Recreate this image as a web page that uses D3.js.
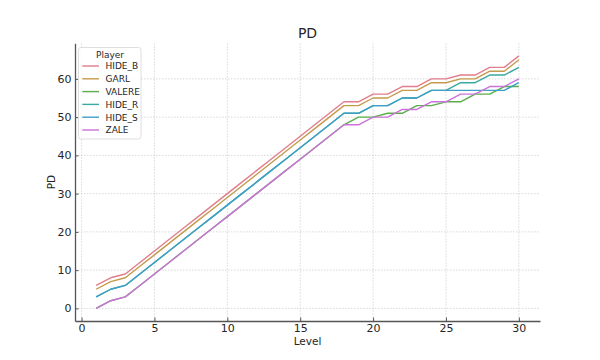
<!DOCTYPE html>
<html>
<head>
<meta charset="utf-8">
<script src="https://cdn.jsdelivr.net/npm/d3@7"></script>
<style>
  html, body { margin: 0; padding: 0; background: #fff; }
  svg { display: block; font-family: "DejaVu Sans", sans-serif; }
</style>
</head>
<body>
<svg id="chart" width="600" height="360"></svg>
<script>
// ---- data ----
const levels = [1,2,3,4,5,6,7,8,9,10,11,12,13,14,15,16,17,18,19,20,21,22,23,24,25,26,27,28,29,30];
const players = ["HIDE_B","GARL","VALERE","HIDE_R","HIDE_S","ZALE"];
const HIDE_B = [6,8,9,12,15,18,21,24,27,30,33,36,39,42,45,48,51,54,54,56,56,58,58,60,60,61,61,63,63,66];
const GARL   = [5,7,8,11,14,17,20,23,26,29,32,35,38,41,44,47,50,53,53,55,55,57,57,59,59,60,60,62,62,65];
const VALERE = [0,2,3,6,9,12,15,18,21,24,27,30,33,36,39,42,45,48,50,50,51,51,53,53,54,54,56,56,58,58];
const HIDE_R = [3,5,6,9,12,15,18,21,24,27,30,33,36,39,42,45,48,51,51,53,53,55,55,57,57,59,59,61,61,63];
const HIDE_S = [3,5,6,9,12,15,18,21,24,27,30,33,36,39,42,45,48,51,51,53,53,55,55,57,57,57,57,57,57,59];
const ZALE   = [0,2,3,6,9,12,15,18,21,24,27,30,33,36,39,42,45,48,48,50,50,52,52,54,54,56,56,58,58,60];
const seriesValues = [HIDE_B, GARL, VALERE, HIDE_R, HIDE_S, ZALE];
const xTicks = [0,5,10,15,20,25,30];
const yTicks = [0,10,20,30,40,50,60];
const colors = ["#e27d8c","#c49a4c","#5aae48","#3aa99f","#3d9fc6","#cc72dc"];

// ---- layout ----
const svg = d3.select("#chart");
const L = 75, R = 540, T = 43.3, B = 321;
const x = d3.scaleLinear().domain([-0.45, 31.45]).range([L, R]);
const y = d3.scaleLinear().domain([-3.3, 69.3]).range([B, T]);
const textColor = "#262626";

// grid
const grid = svg.append("g");
grid.selectAll(".gx").data(xTicks).enter().append("line")
  .attr("x1", d => x(d)).attr("x2", d => x(d)).attr("y1", T).attr("y2", B)
  .attr("stroke", "#cfcfcf").attr("stroke-width", 0.8).attr("stroke-dasharray", "1.5,1.5");
grid.selectAll(".gy").data(yTicks).enter().append("line")
  .attr("x1", L).attr("x2", R).attr("y1", d => y(d)).attr("y2", d => y(d))
  .attr("stroke", "#cfcfcf").attr("stroke-width", 0.8).attr("stroke-dasharray", "1.5,1.5");

// axes
const xAxis = d3.axisBottom(x).tickValues(xTicks).tickSizeInner(-3.5).tickSizeOuter(0).tickPadding(3);
const yAxis = d3.axisLeft(y).tickValues(yTicks).tickSizeInner(-3.5).tickSizeOuter(0).tickPadding(3.5);
const gx = svg.append("g").attr("transform", `translate(0,${B})`).call(xAxis);
const gy = svg.append("g").attr("transform", `translate(${L},0)`).call(yAxis);
[gx, gy].forEach(g => {
  g.select(".domain").attr("stroke", "#555").attr("stroke-width", 1.3);
  g.selectAll(".tick line").attr("stroke", "#555").attr("stroke-width", 1);
  g.selectAll(".tick text").attr("fill", textColor).attr("font-size", 11)
    .attr("font-family", "DejaVu Sans, sans-serif");
});

// lines
const line = d3.line().x((d, i) => x(levels[i])).y(d => y(d));
svg.append("g").selectAll("path").data(seriesValues).enter().append("path")
  .attr("d", d => line(d))
  .attr("fill", "none")
  .attr("stroke", (d, i) => colors[i])
  .attr("stroke-width", 1.4)
  .attr("stroke-linejoin", "round");

// titles
svg.append("text").attr("x", (L + R) / 2).attr("y", 37.5).attr("text-anchor", "middle")
  .attr("font-size", 14).attr("fill", textColor).text("PD");
svg.append("text").attr("x", (L + R) / 2).attr("y", 345).attr("text-anchor", "middle")
  .attr("font-size", 10.5).attr("fill", textColor).text("Level");
svg.append("text").attr("transform", `translate(55,${(T + B) / 2}) rotate(-90)`)
  .attr("text-anchor", "middle").attr("font-size", 10.5).attr("fill", textColor).text("PD");

// legend
const lg = svg.append("g");
lg.append("rect").attr("x", 78.5).attr("y", 47.5).attr("width", 62.5).attr("height", 91.5)
  .attr("rx", 2.5).attr("fill", "#fff").attr("fill-opacity", 0.85)
  .attr("stroke", "#d6d6d6").attr("stroke-width", 0.8);
lg.append("text").attr("x", 110).attr("y", 57.5).attr("text-anchor", "middle")
  .attr("font-size", 9).attr("fill", textColor).text("Player");
const rows = lg.selectAll(".row").data(players).enter().append("g")
  .attr("transform", (d, i) => `translate(0,${66 + i * 12.8})`);
rows.append("line").attr("x1", 82.3).attr("x2", 99).attr("y1", 0).attr("y2", 0)
  .attr("stroke", (d, i) => colors[i]).attr("stroke-width", 1.4);
rows.append("text").attr("x", 105.5).attr("y", 3.3).attr("font-size", 9)
  .attr("fill", textColor).text(d => d);
</script>
</body>
</html>
